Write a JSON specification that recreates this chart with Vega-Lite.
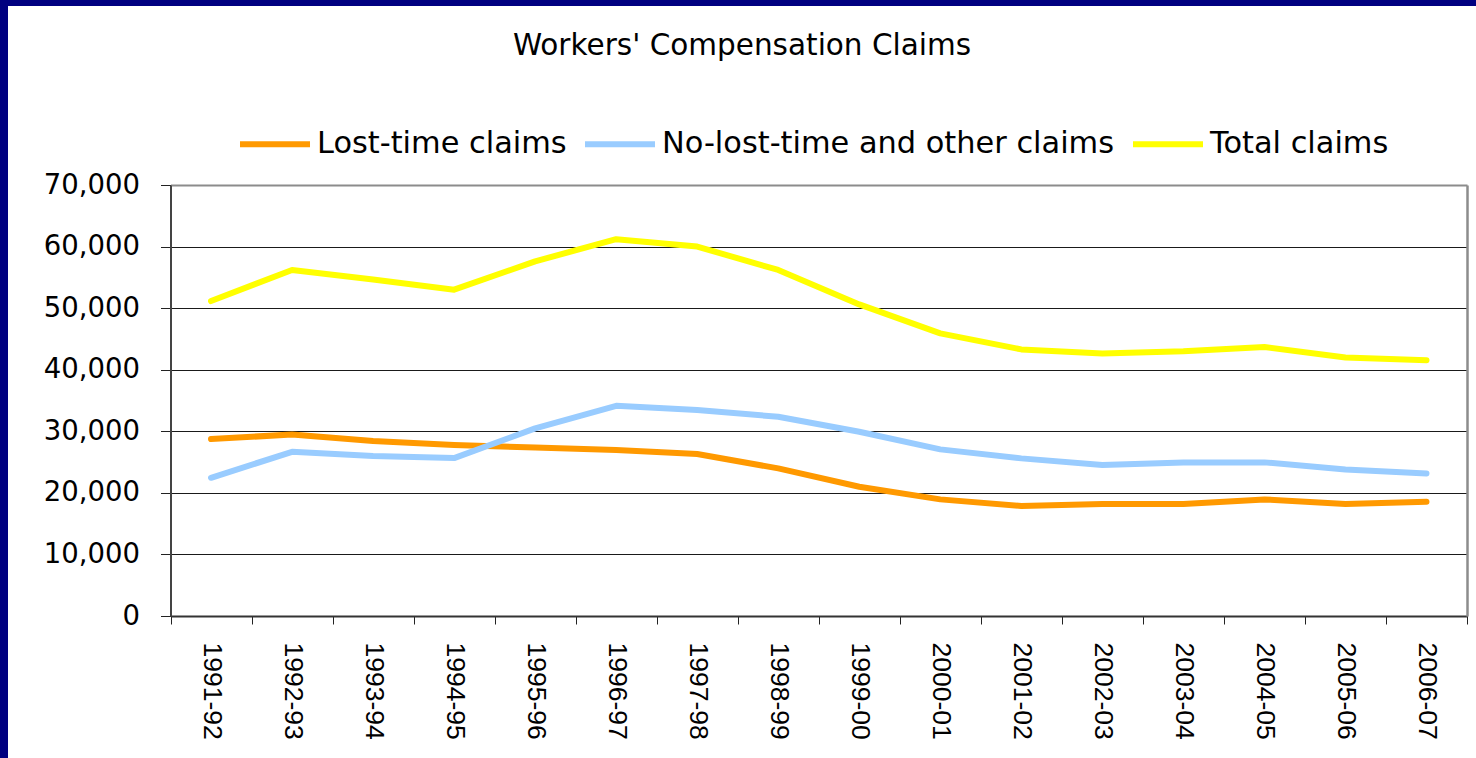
{
  "$schema": "https://vega.github.io/schema/vega-lite/v6.json",
  "width": 1468,
  "height": 752,
  "autosize": {"type": "none"},
  "padding": {"left": 8, "top": 6, "right": 0, "bottom": 0},
  "background": "#000080",
  "config": {
    "view": {"fill": "white", "stroke": null},
    "font": "DejaVu Sans"
  },
  "title": {
    "text": "Workers' Compensation Claims",
    "font": "DejaVu Sans",
    "fontSize": 29.5,
    "fontWeight": "normal",
    "color": "black",
    "anchor": "middle",
    "frame": "group",
    "baseline": "alphabetic",
    "offset": -78
  },
  "data": {
    "values": [
      {"year": "1991-92", "series": "Lost-time claims", "value": 28730},
      {"year": "1992-93", "series": "Lost-time claims", "value": 29490},
      {"year": "1993-94", "series": "Lost-time claims", "value": 28410},
      {"year": "1994-95", "series": "Lost-time claims", "value": 27760},
      {"year": "1995-96", "series": "Lost-time claims", "value": 27380},
      {"year": "1996-97", "series": "Lost-time claims", "value": 26950},
      {"year": "1997-98", "series": "Lost-time claims", "value": 26300},
      {"year": "1998-99", "series": "Lost-time claims", "value": 23970},
      {"year": "1999-00", "series": "Lost-time claims", "value": 20990},
      {"year": "2000-01", "series": "Lost-time claims", "value": 18940},
      {"year": "2001-02", "series": "Lost-time claims", "value": 17860},
      {"year": "2002-03", "series": "Lost-time claims", "value": 18180},
      {"year": "2003-04", "series": "Lost-time claims", "value": 18180},
      {"year": "2004-05", "series": "Lost-time claims", "value": 18940},
      {"year": "2005-06", "series": "Lost-time claims", "value": 18180},
      {"year": "2006-07", "series": "Lost-time claims", "value": 18560},
      {"year": "1991-92", "series": "No-lost-time and other claims", "value": 22450},
      {"year": "1992-93", "series": "No-lost-time and other claims", "value": 26670},
      {"year": "1993-94", "series": "No-lost-time and other claims", "value": 25970},
      {"year": "1994-95", "series": "No-lost-time and other claims", "value": 25650},
      {"year": "1995-96", "series": "No-lost-time and other claims", "value": 30470},
      {"year": "1996-97", "series": "No-lost-time and other claims", "value": 34140},
      {"year": "1997-98", "series": "No-lost-time and other claims", "value": 33440},
      {"year": "1998-99", "series": "No-lost-time and other claims", "value": 32360},
      {"year": "1999-00", "series": "No-lost-time and other claims", "value": 29920},
      {"year": "2000-01", "series": "No-lost-time and other claims", "value": 27060},
      {"year": "2001-02", "series": "No-lost-time and other claims", "value": 25600},
      {"year": "2002-03", "series": "No-lost-time and other claims", "value": 24510},
      {"year": "2003-04", "series": "No-lost-time and other claims", "value": 24950},
      {"year": "2004-05", "series": "No-lost-time and other claims", "value": 24950},
      {"year": "2005-06", "series": "No-lost-time and other claims", "value": 23810},
      {"year": "2006-07", "series": "No-lost-time and other claims", "value": 23160},
      {"year": "1991-92", "series": "Total claims", "value": 51150},
      {"year": "1992-93", "series": "Total claims", "value": 56200},
      {"year": "1993-94", "series": "Total claims", "value": 54650},
      {"year": "1994-95", "series": "Total claims", "value": 53000},
      {"year": "1995-96", "series": "Total claims", "value": 57600},
      {"year": "1996-97", "series": "Total claims", "value": 61200},
      {"year": "1997-98", "series": "Total claims", "value": 60000},
      {"year": "1998-99", "series": "Total claims", "value": 56200},
      {"year": "1999-00", "series": "Total claims", "value": 50600},
      {"year": "2000-01", "series": "Total claims", "value": 45900},
      {"year": "2001-02", "series": "Total claims", "value": 43300},
      {"year": "2002-03", "series": "Total claims", "value": 42650},
      {"year": "2003-04", "series": "Total claims", "value": 43000},
      {"year": "2004-05", "series": "Total claims", "value": 43700},
      {"year": "2005-06", "series": "Total claims", "value": 42000},
      {"year": "2006-07", "series": "Total claims", "value": 41550}
    ]
  },
  "layer": [
    {
      "mark": {"type": "line", "strokeWidth": 6, "strokeCap": "round", "strokeJoin": "round"},
      "encoding": {
        "x": {
          "field": "year",
          "type": "ordinal",
          "sort": null,
          "scale": {"type": "band", "range": [162.5, 1459], "paddingInner": 0, "paddingOuter": 0},
          "axis": {
            "orient": "bottom",
            "offset": -142,
            "title": null,
            "labelAngle": 90,
            "labelFont": "Liberation Sans",
            "labelFontSize": 26.5,
            "labelColor": "black",
            "labelPadding": 18,
            "tickSize": 8,
            "tickColor": "#222222",
            "tickWidth": 1,
            "tickBand": "extent",
            "domainColor": "#333333",
            "domainWidth": 2,
            "grid": false
          }
        },
        "y": {
          "field": "value",
          "type": "quantitative",
          "scale": {"domain": [0, 70000], "range": [610, 179], "nice": false},
          "axis": {
            "orient": "left",
            "offset": -162.5,
            "title": null,
            "values": [0, 10000, 20000, 30000, 40000, 50000, 60000, 70000],
            "format": ",d",
            "labelFont": "DejaVu Sans",
            "labelFontSize": 27.5,
            "labelColor": "black",
            "labelPadding": 21,
            "tickSize": 10,
            "tickColor": "#222222",
            "tickWidth": 1,
            "domainColor": "#444444",
            "domainWidth": 2,
            "grid": true,
            "gridColor": {"condition": {"test": "datum.value === 70000", "value": "#8c8c8c"}, "value": "#1a1a1a"},
            "gridWidth": {"condition": {"test": "datum.value === 70000", "value": 2}, "value": 1}
          }
        },
        "color": {
          "field": "series",
          "type": "nominal",
          "scale": {
            "domain": ["Lost-time claims", "No-lost-time and other claims", "Total claims"],
            "range": ["#FF9900", "#99CCFF", "#FFFF00"]
          },
          "legend": {
            "orient": "none",
            "legendX": 229,
            "legendY": 100,
            "direction": "horizontal",
            "title": null,
            "symbolType": "stroke",
            "symbolSize": 4900,
            "symbolStrokeWidth": 6,
            "labelFont": "DejaVu Sans",
            "labelFontSize": 30.4,
            "labelColor": "black",
            "labelOffset": 4,
            "labelLimit": 1000,
            "columnPadding": 6,
            "padding": 0
          }
        }
      }
    },
    {
      "mark": {"type": "line", "strokeOpacity": 0},
      "encoding": {
        "x": {"field": "year", "type": "ordinal", "sort": null},
        "y": {
          "field": "value",
          "type": "quantitative",
          "axis": {
            "orient": "right",
            "offset": -9,
            "title": null,
            "grid": false,
            "ticks": false,
            "labels": false,
            "domainColor": "#8c8c8c",
            "domainWidth": 2.5
          }
        },
        "detail": {"field": "series"}
      }
    }
  ]
}
